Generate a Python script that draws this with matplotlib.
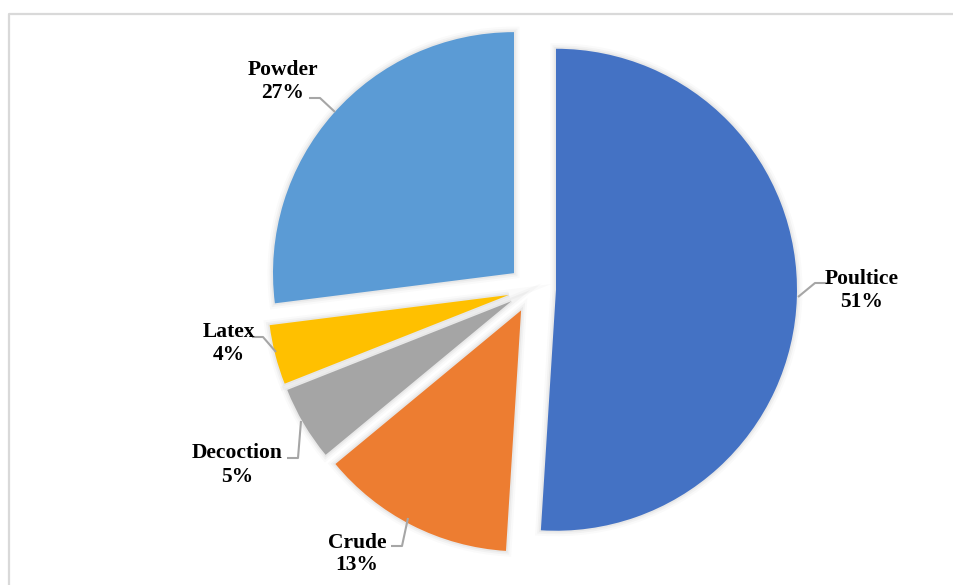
import matplotlib

matplotlib.use("Agg")
import matplotlib.pyplot as plt
from matplotlib.patches import Wedge
from matplotlib.lines import Line2D

# data
categories = ["Poultice", "Crude", "Decoction", "Latex", "Powder"]
shares = [51, 13, 5, 4, 27]
colors = ["#4472C4", "#ED7D31", "#A5A5A5", "#FFC000", "#5B9BD5"]

W, H = 954, 585


def yy(y_top):
    """Convert a top-down pixel row to data y."""
    return H - y_top


# label anchors and leader paths (top-down pixel coords)
label_pos = {
    "Poultice": (862, 290),
    "Crude": (357, 554),
    "Decoction": (237, 465),
    "Latex": (229, 343),
    "Powder": (283, 81),
}
leaders = {
    "Poultice": [(828, 283), (815, 283), (798, 297)],
    "Crude": [(391, 546), (402, 546), (408, 518)],
    "Decoction": [(287, 458), (298, 458), (301, 421)],
    "Latex": [(252, 337), (263, 337), (276, 352)],
    "Powder": [(309, 98), (320, 98), (335, 112)],
}

fig = plt.figure(figsize=(W / 100, H / 100), dpi=100)
ax = fig.add_axes([0, 0, 1, 1])

# outer chart frame (right and bottom are cropped in the original)
fig.add_artist(Line2D([9 / W, 9 / W, 1.0], [0.0, 1 - 14 / H, 1 - 14 / H],
                      transform=fig.transFigure, color="#D9D9D9", lw=1.6))

radius = 241
center = (532, yy(289))
wedges, _ = ax.pie(
    shares,
    colors=colors,
    startangle=90,
    counterclock=False,
    radius=radius,
    center=center,
    explode=[24] * len(shares),
    wedgeprops={"linewidth": 0, "zorder": 3},
    frame=True,
)
ax.set_xlim(0, W)
ax.set_ylim(0, H)
ax.set_aspect("equal")
ax.axis("off")

# soft shadow behind each slice
for w in wedges:
    for lw, a in ((8, 0.02), (5, 0.03), (2.5, 0.04)):
        glow = Wedge(w.center, w.r, w.theta1, w.theta2, facecolor="none",
                     edgecolor="black", lw=lw, alpha=a, zorder=2)
        glow.set_transform(ax.transData)
        ax.add_patch(glow)

for name, share in zip(categories, shares):
    x, y = label_pos[name]
    ax.text(x, yy(y), f"{name}\n{share}%", ha="center", va="center",
            multialignment="center", fontsize=15.5, fontweight="bold",
            family="Liberation Serif", color="black", linespacing=1.2,
            zorder=5)
    pts = leaders[name]
    ax.plot([p[0] for p in pts], [yy(p[1]) for p in pts],
            color="#A6A6A6", lw=1.5, zorder=4, solid_capstyle="butt")

fig.savefig("out.png", dpi=100)
plt.close(fig)
